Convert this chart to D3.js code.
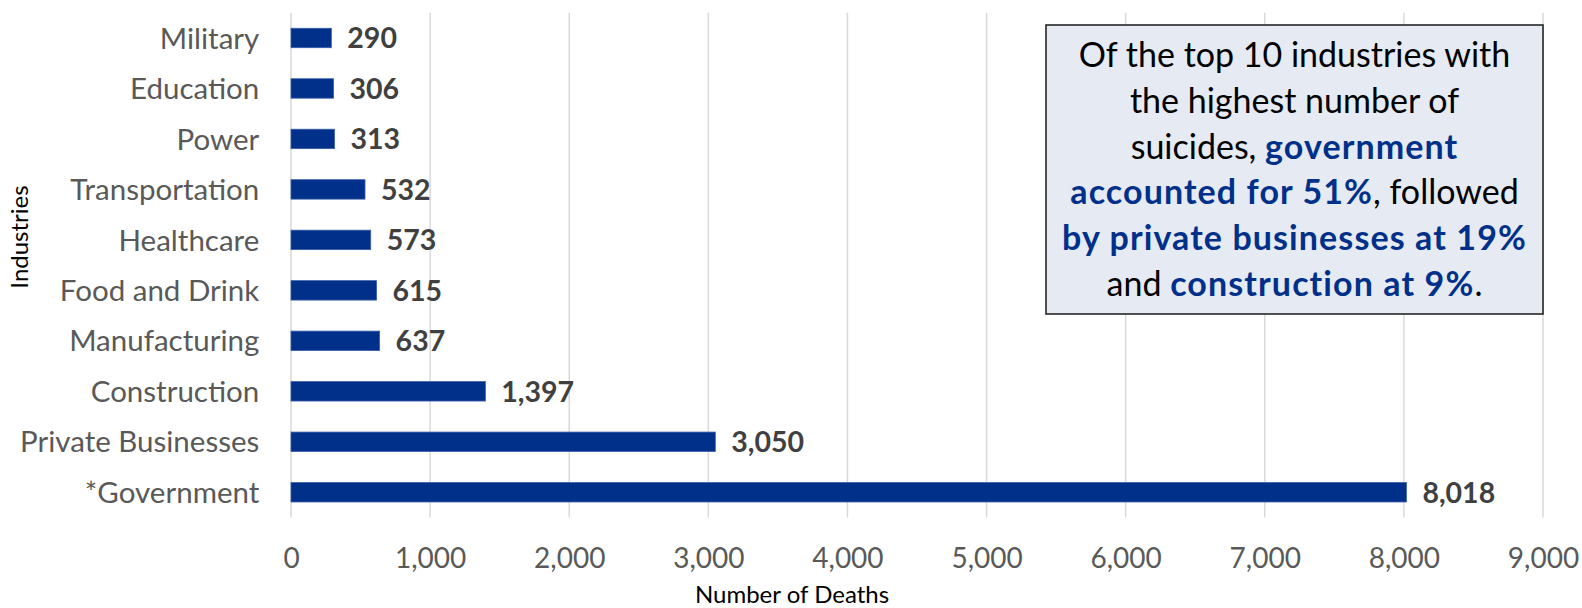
<!DOCTYPE html>
<html>
<head>
<meta charset="utf-8">
<script src="https://cdn.jsdelivr.net/npm/d3@7"></script>
<style>
  body { margin: 0; background: #fff; }
  svg { display: block; font-family: Lato, "Open Sans", sans-serif; }
</style>
</head>
<body>
<svg id="chart" width="1582" height="608"></svg>
<script>
// top to bottom, as in the chart
const industries = ['Military', 'Education', 'Power', 'Transportation', 'Healthcare',
    'Food and Drink', 'Manufacturing', 'Construction', 'Private Businesses', '*Government'];
const deaths = [290, 306, 313, 532, 573, 615, 637, 1397, 3050, 8018];
const xTicks = [0, 1000, 2000, 3000, 4000, 5000, 6000, 7000, 8000, 9000];

// callout text, one entry per line: [text, highlighted]
const noteLines = [
    [['Of the top 10 industries with', false]],
    [['the highest number of', false]],
    [['suicides, ', false], ['government', true]],
    [['accounted for 51%', true], [', followed', false]],
    [['by private businesses at 19%', true]],
    [['and ', false], ['construction at 9%', true], ['.', false]]
];

const svg = d3.select('#chart');
const plotLeft = 291, plotRight = 1543, plotTop = 12.75, plotBottom = 517.5;
const fmt = d3.format(',');
const navy = '#00308a';

const x = d3.scaleLinear().domain([0, 9000]).range([plotLeft, plotRight]);
const y = d3.scaleBand().domain(industries).range([plotTop, plotBottom])
    .paddingInner(0.615).paddingOuter(0.3075);

// gridlines
svg.append('g')
    .selectAll('line')
    .data(xTicks)
    .enter()
    .append('line')
    .attr('x1', d => x(d))
    .attr('x2', d => x(d))
    .attr('y1', plotTop)
    .attr('y2', plotBottom)
    .attr('stroke', '#d9d9d9')
    .attr('stroke-width', 1.5);

// x tick labels
const xAxis = svg.append('g')
    .attr('transform', `translate(0,${plotBottom})`)
    .call(d3.axisBottom(x).tickValues(xTicks).tickFormat(fmt).tickSize(0));
xAxis.select('.domain').remove();
xAxis.selectAll('text')
    .attr('y', 50.5)
    .attr('dy', 0)
    .attr('fill', '#595959')
    .style('font-size', '28px')
    .style('font-family', 'Lato');

// category labels
const yAxis = svg.append('g')
    .attr('transform', `translate(${plotLeft},0)`)
    .call(d3.axisLeft(y).tickSize(0).tickPadding(31.7));
yAxis.select('.domain').remove();
yAxis.selectAll('text')
    .attr('fill', '#595959')
    .attr('dy', '0.36em')
    .style('font-size', '29.5px')
    .style('font-family', 'Lato');

// bars
svg.append('g')
    .selectAll('rect')
    .data(deaths)
    .enter()
    .append('rect')
    .attr('x', x(0))
    .attr('y', (d, i) => y(industries[i]))
    .attr('width', d => x(d) - x(0))
    .attr('height', y.bandwidth())
    .attr('fill', navy)
    .attr('stroke', '#3a5ea8')
    .attr('stroke-width', 0.8);

// value labels
svg.append('g')
    .selectAll('text')
    .data(deaths)
    .enter()
    .append('text')
    .attr('x', d => x(d) + 16)
    .attr('y', (d, i) => y(industries[i]) + y.bandwidth() / 2)
    .attr('dy', '0.36em')
    .attr('fill', '#404040')
    .style('font-size', '28.5px')
    .style('font-weight', 'bold')
    .text(d => fmt(d));

// axis titles
svg.append('text')
    .attr('x', 792)
    .attr('y', 603)
    .attr('text-anchor', 'middle')
    .attr('fill', '#000')
    .style('font-size', '24px')
    .text('Number of Deaths');

svg.append('text')
    .attr('transform', 'translate(28,237) rotate(-90)')
    .attr('text-anchor', 'middle')
    .attr('fill', '#000')
    .style('font-size', '24px')
    .text('Industries');

// callout box
const box = { x: 1046, y: 25, w: 497, h: 289 };
svg.append('rect')
    .attr('x', box.x)
    .attr('y', box.y)
    .attr('width', box.w)
    .attr('height', box.h)
    .attr('fill', '#e6eaf2')
    .attr('stroke', '#262626')
    .attr('stroke-width', 1.6);

const note = svg.append('text')
    .attr('text-anchor', 'middle')
    .style('font-size', '34px');

noteLines.forEach((line, i) => {
    const row = note.append('tspan')
        .attr('x', box.x + box.w / 2)
        .attr('y', 67 + i * 45.8);
    line.forEach(([txt, hi]) => {
        row.append('tspan')
            .attr('fill', hi ? navy : '#000')
            .style('font-weight', hi ? 'bold' : 'normal')
            .style('letter-spacing', hi ? '1.1px' : '0px')
            .text(txt);
    });
});
</script>
</body>
</html>
